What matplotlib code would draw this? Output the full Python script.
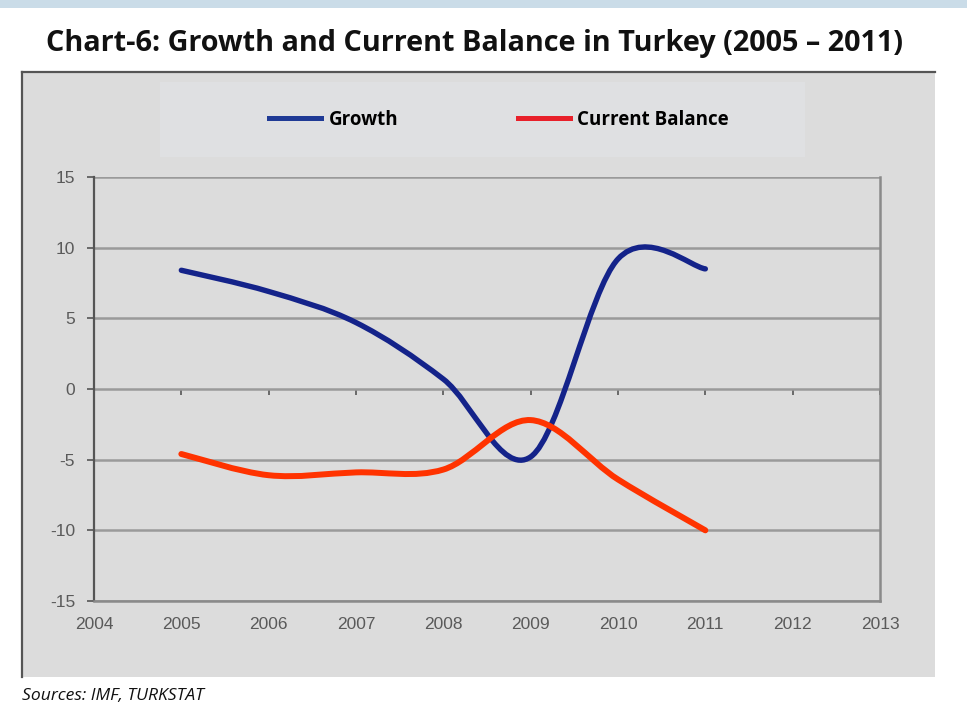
import matplotlib.pyplot as plt
import numpy as np
from matplotlib.path import Path
from matplotlib.patches import PathPatch, Rectangle
from matplotlib.lines import Line2D

plt.rcParams['axes.unicode_minus'] = False

years = [2005, 2006, 2007, 2008, 2009, 2010, 2011]
growth = [8.4, 6.9, 4.7, 0.7, -4.8, 9.2, 8.5]
current_balance = [-4.6, -6.1, -5.9, -5.7, -2.2, -6.4, -10.0]

x_ticks = list(range(2004, 2014))
y_ticks = [-15, -10, -5, 0, 5, 10, 15]

W, H = 967, 715


def smooth_path(xs, ys):
    # cubic bezier through every point, spreadsheet-style smoothing
    pts = np.column_stack([xs, ys]).astype(float)
    ext = np.vstack([pts[0], pts, pts[-1]])
    verts = [pts[0]]
    codes = [Path.MOVETO]
    for i in range(len(pts) - 1):
        p_prev, p0, p1, p_next = ext[i], ext[i + 1], ext[i + 2], ext[i + 3]
        c1 = p0 + (p1 - p_prev) / 6.0
        c2 = p1 - (p_next - p0) / 6.0
        verts += [c1, c2, p1]
        codes += [Path.CURVE4] * 3
    return Path(verts, codes)


def fx(px):
    return px / W


def fy(py):
    return 1 - py / H


fig = plt.figure(figsize=(W / 100, H / 100), dpi=100)
fig.patch.set_facecolor('white')

# light strip along the top edge
fig.patches.append(Rectangle((0, fy(8)), 1, 8 / H, transform=fig.transFigure,
                             facecolor='#cadce8', edgecolor='none', zorder=-2))

# grey chart panel
fig.patches.append(Rectangle((fx(22), fy(677)), fx(935 - 22), (677 - 72) / H,
                             transform=fig.transFigure, facecolor='#dcdcdc',
                             edgecolor='none', zorder=-2))
fig.lines.append(Line2D([fx(22), fx(22)], [fy(677), fy(72)], transform=fig.transFigure,
                        color='#555555', lw=1.6, zorder=-1))
fig.lines.append(Line2D([fx(22), fx(935)], [fy(72), fy(72)], transform=fig.transFigure,
                        color='#555555', lw=1.6, zorder=-1))

# legend panel
fig.patches.append(Rectangle((fx(160), fy(157)), fx(805 - 160), (157 - 82) / H,
                             transform=fig.transFigure, facecolor='#dfe0e2',
                             edgecolor='none', zorder=-1))

fig.text(fx(475), fy(44), 'Chart-6: Growth and Current Balance in Turkey (2005 \u2013 2011)',
         ha='center', va='center', fontsize=20.8, fontweight='bold',
         family='Open Sans', color='#111111')
fig.text(fx(22), fy(696), 'Sources: IMF, TURKSTAT', ha='left', va='center',
         fontsize=12.6, style='italic', family='Open Sans', color='#111111')

ax = fig.add_axes([fx(94), fy(601), fx(880 - 94), (601 - 177) / H])
ax.set_facecolor('#dcdcdc')
ax.set_xlim(2004, 2013)
ax.set_ylim(-15, 15)
ax.set_xticks(x_ticks)
ax.set_yticks(y_ticks)

for v in y_ticks:
    ax.axhline(v, color='#9a9a9a', lw=1.8, zorder=1)

ax.spines['top'].set_visible(False)
ax.spines['left'].set_color('#555555')
ax.spines['left'].set_linewidth(1.6)
ax.spines['bottom'].set_color('#8a8a8a')
ax.spines['bottom'].set_linewidth(1.8)
ax.spines['right'].set_color('#8a8a8a')
ax.spines['right'].set_linewidth(1.8)

ax.tick_params(axis='x', length=0, pad=11.5, labelsize=12.5, labelcolor='#5a5a5a')
ax.tick_params(axis='y', length=5, width=1.2, color='#555555', direction='out',
               pad=8.5, labelsize=12.5, labelcolor='#5a5a5a')
for lab in ax.get_xticklabels() + ax.get_yticklabels():
    lab.set_family('Liberation Sans')

# year ticks hanging below the zero line
sec = ax.secondary_xaxis(0.5)
sec.set_alignment('bottom')
sec.set_xticks(x_ticks)
sec.set_xticklabels([])
sec.tick_params(length=4, width=1.2, color='#555555', direction='out',
                labelbottom=False, labeltop=False)
for s in sec.spines.values():
    s.set_visible(False)

blue = '#14238a'
red = '#ff3300'
ax.add_patch(PathPatch(smooth_path(years, growth), facecolor='none', edgecolor=blue,
                       lw=3.9, capstyle='round', joinstyle='round', zorder=3))
ax.add_patch(PathPatch(smooth_path(years, current_balance), facecolor='none', edgecolor=red,
                       lw=4.3, capstyle='round', joinstyle='round', zorder=3))

handles = [Line2D([], [], color='#1f3a95', lw=3.6),
           Line2D([], [], color='#e8202a', lw=3.6)]
leg = fig.legend(handles, ['Growth', 'Current Balance'], loc='center',
                 bbox_to_anchor=(fx(499), fy(120)), ncol=2, frameon=False,
                 prop={'family': 'Open Sans', 'weight': 'bold', 'size': 13.5},
                 handlelength=2.75, handletextpad=0.42, columnspacing=6.4)

fig.savefig('out.png', dpi=100, facecolor='white')
